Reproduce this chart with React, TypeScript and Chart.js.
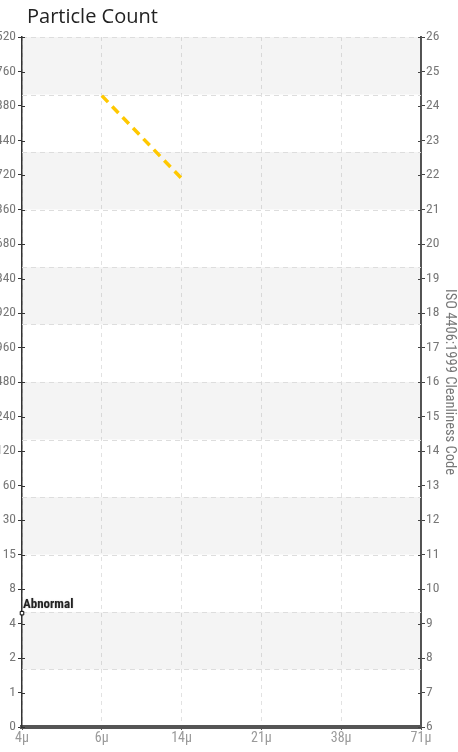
import React, { useEffect, useRef } from 'react';
import { Chart, registerables } from 'chart.js';

Chart.register(...registerables);

// ---- data ----
const chartTitle = 'Particle Count';
const sizes = ['4μ', '6μ', '14μ', '21μ', '38μ', '71μ'];
const sampleCodes: (number | null)[] = [null, 24.3, 21.9, null, null, null];
const abnormalCodes: (number | null)[] = [9.3, null, null, null, null, null];
const abnormalLabels = ['Abnormal'];
const countLabels = [
  '0', '1', '2', '4', '8', '15', '30', '60', '120', '240', '480', '960',
  '1920', '3840', '7680', '15360', '30720', '61440', '122880', '245760', '491520',
];
const codeMin = 6;
const codeMax = 26;
const bandEdges = [6, 7.667, 9.333, 11, 12.667, 14.333, 16, 17.667, 19.333, 21, 22.667, 24.333, 26];

const COND = "'Roboto Condensed', 'DejaVu Sans Condensed', sans-serif";

const bandsPlugin = {
  id: 'bands',
  beforeDatasetsDraw(chart: any) {
    const { ctx, chartArea } = chart;
    const y = chart.scales.yR;
    ctx.save();
    for (let i = 0; i < bandEdges.length - 1; i++) {
      if (i % 2 === 1) {
        const y1 = y.getPixelForValue(bandEdges[i + 1]);
        const y2 = y.getPixelForValue(bandEdges[i]);
        ctx.fillStyle = 'rgba(0,0,0,0.045)';
        ctx.fillRect(chartArea.left, y1, chartArea.right - chartArea.left, y2 - y1);
      }
    }
    ctx.strokeStyle = '#dddddd';
    ctx.lineWidth = 1;
    ctx.setLineDash([5, 4]);
    for (let i = 1; i < bandEdges.length; i++) {
      const py = Math.round(y.getPixelForValue(bandEdges[i])) + 0.5;
      ctx.beginPath();
      ctx.moveTo(chartArea.left, py);
      ctx.lineTo(chartArea.right, py);
      ctx.stroke();
    }
    ctx.restore();
  },
};

const decorPlugin = {
  id: 'decor',
  afterDraw(chart: any) {
    const { ctx, chartArea } = chart;
    ctx.save();
    // title
    ctx.font = "20px 'Open Sans', sans-serif";
    ctx.fillStyle = '#222';
    ctx.textAlign = 'left';
    ctx.textBaseline = 'alphabetic';
    ctx.fillText(chartTitle, chartArea.left + 5, chartArea.top - 14);
    // inward tick marks on y axes
    const yL = chart.scales.yL;
    const yR = chart.scales.yR;
    ctx.lineWidth = 1;
    ctx.strokeStyle = '#333';
    yL.ticks.forEach((t: any) => {
      const py = Math.round(yL.getPixelForValue(t.value)) + 0.5;
      ctx.beginPath();
      ctx.moveTo(chartArea.left, py);
      ctx.lineTo(chartArea.left + 3, py);
      ctx.stroke();
    });
    ctx.strokeStyle = '#444';
    yR.ticks.forEach((t: any) => {
      const py = Math.round(yR.getPixelForValue(t.value)) + 0.5;
      ctx.beginPath();
      ctx.moveTo(chartArea.right - 3, py);
      ctx.lineTo(chartArea.right, py);
      ctx.stroke();
    });
    ctx.restore();
  },
  afterDatasetsDraw(chart: any) {
    const { ctx } = chart;
    const meta = chart.getDatasetMeta(1);
    const pt = meta.data[0];
    if (!pt) return;
    ctx.save();
    ctx.font = `bold 13px ${COND}`;
    ctx.fillStyle = '#222';
    ctx.textAlign = 'left';
    ctx.textBaseline = 'alphabetic';
    ctx.shadowColor = 'rgba(0,0,0,0.3)';
    ctx.shadowBlur = 1.5;
    ctx.fillText(abnormalLabels[0], pt.x + 1, pt.y - 5);
    ctx.restore();
  },
};

export default function App() {
  const ref = useRef<HTMLCanvasElement | null>(null);

  useEffect(() => {
    document.body.style.margin = '0';
    const canvas = ref.current;
    if (!canvas) return;
    const chart = new Chart(canvas, {
      type: 'line',
      data: {
        labels: sizes,
        datasets: [
          {
            label: 'Sample',
            data: sampleCodes,
            yAxisID: 'yR',
            borderColor: '#FFC800',
            borderWidth: 3.5,
            borderDash: [9, 6],
            pointRadius: 0,
            fill: false,
            spanGaps: false,
          },
          {
            label: 'Abnormal',
            data: abnormalCodes,
            yAxisID: 'yR',
            showLine: false,
            pointStyle: 'rect',
            pointRadius: 2.5,
            pointBackgroundColor: '#ffffff',
            pointBorderColor: '#000000',
            pointBorderWidth: 1,
          },
        ],
      },
      options: {
        responsive: false,
        animation: false,
        layout: { padding: { top: 37, left: 0, right: 0, bottom: 0 } },
        plugins: {
          legend: { display: false },
          tooltip: { enabled: false },
          title: { display: false },
        },
        scales: {
          x: {
            type: 'category',
            offset: false,
            grid: {
              color: '#e2e2e2',
              lineWidth: 1,
              drawTicks: true,
              tickLength: 3,
              tickColor: '#555',
            },
            border: { display: true, color: '#555', width: 4, dash: [4, 4] },
            ticks: {
              color: '#9a9a9a',
              padding: 0,
              maxRotation: 0,
              font: { family: COND, size: 14 },
            },
            afterFit(scale: any) {
              scale.height = 25;
            },
          },
          yL: {
            type: 'linear',
            position: 'left',
            min: 0,
            max: codeMax - codeMin,
            ticks: {
              stepSize: 1,
              color: '#777',
              padding: 2,
              font: { family: COND, size: 13.5 },
              callback: (v: any) => countLabels[Math.round(Number(v))],
            },
            grid: { drawOnChartArea: false, drawTicks: true, tickLength: 4, color: '#333' },
            border: { display: true, color: '#333', width: 1.5 },
            afterFit(scale: any) {
              scale.width = 52;
            },
          },
          yR: {
            type: 'linear',
            position: 'right',
            min: codeMin,
            max: codeMax,
            ticks: {
              stepSize: 1,
              color: '#777',
              padding: 1,
              font: { family: COND, size: 13.5 },
            },
            grid: { drawOnChartArea: false, drawTicks: true, tickLength: 4, color: '#444' },
            border: { display: true, color: '#555', width: 2 },
            title: {
              display: true,
              text: 'ISO 4406:1999 Cleanliness Code',
              color: '#777',
              padding: 0,
              font: { family: COND, size: 14.5 },
            },
            afterFit(scale: any) {
              scale.width = 37;
            },
          },
        },
      },
      plugins: [bandsPlugin, decorPlugin],
    } as any);
    return () => chart.destroy();
  }, []);

  return (
    <div style={{ position: 'relative', width: 458, height: 752, overflow: 'hidden' }}>
      <div style={{ position: 'absolute', left: -30, top: 0, width: 488, height: 752 }}>
        <canvas ref={ref} width={488} height={752} style={{ display: 'block' }} />
      </div>
    </div>
  );
}
